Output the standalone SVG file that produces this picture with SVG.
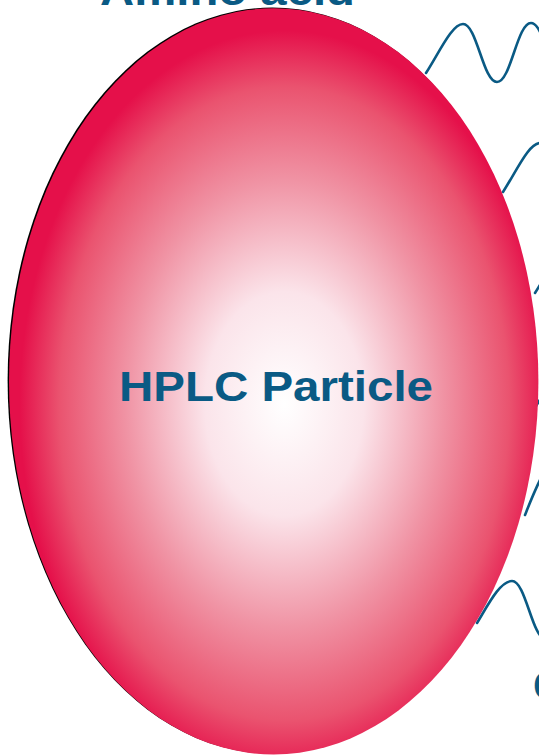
<svg xmlns="http://www.w3.org/2000/svg" width="539" height="756" viewBox="0 0 539 756">
  <style>
    .lbl { font-family: "Liberation Sans", Arial, sans-serif; font-weight: bold; fill: #0a5a84; font-size: 42px; }
    .wave { fill: none; stroke: #0a5a84; stroke-width: 2.6; stroke-linecap: round; stroke-linejoin: round; }
  </style>
  <defs>
    <radialGradient id="pg" cx="52%" cy="53%" r="50%" fx="52%" fy="53%">
      <stop offset="0" stop-color="#ffffff"/>
      <stop offset="0.3" stop-color="#fbe4ea"/>
      <stop offset="0.6" stop-color="#f093a4"/>
      <stop offset="0.85" stop-color="#ea536f"/>
      <stop offset="1" stop-color="#e5104a"/>
    </radialGradient>
    <path id="wv" d="m0,0 c14,-22 26,-49 37,-49 c14,0 20,58 34,58 c14,0 20,-59 34,-59 c14,0 20,59 34,59"/>
  </defs>
  <rect width="539" height="756" fill="#ffffff"/>

  <g id="amino-acid-label">
    <text class="lbl" x="100" y="5" textLength="255" lengthAdjust="spacingAndGlyphs">Amino acid</text>
  </g>

  <g id="chains">
    <use href="#wv" class="wave" x="426" y="73"/>
    <use href="#wv" class="wave" x="503" y="192"/>
    <use href="#wv" class="wave" x="535" y="293"/>
    <use href="#wv" class="wave" x="536" y="406"/>
    <path class="wave" d="M525,515 C529,505 534,492 541,478"/>
    <path class="wave" d="M477,623 C488,605 500,581 512,581 C526,581 532,639 546,639"/>
  </g>

  <g id="hplc-particle">
    <ellipse cx="272.3" cy="380.6" rx="264.7" ry="373.1" fill="#000000"/>
    <ellipse cx="273.7" cy="381.4" rx="264.7" ry="373.1" fill="url(#pg)"/>
    <text class="lbl" x="119" y="401" textLength="314" lengthAdjust="spacingAndGlyphs">HPLC Particle</text>
  </g>

  <g id="c-label">
    <text class="lbl" x="533" y="700">C</text>
  </g>
</svg>
